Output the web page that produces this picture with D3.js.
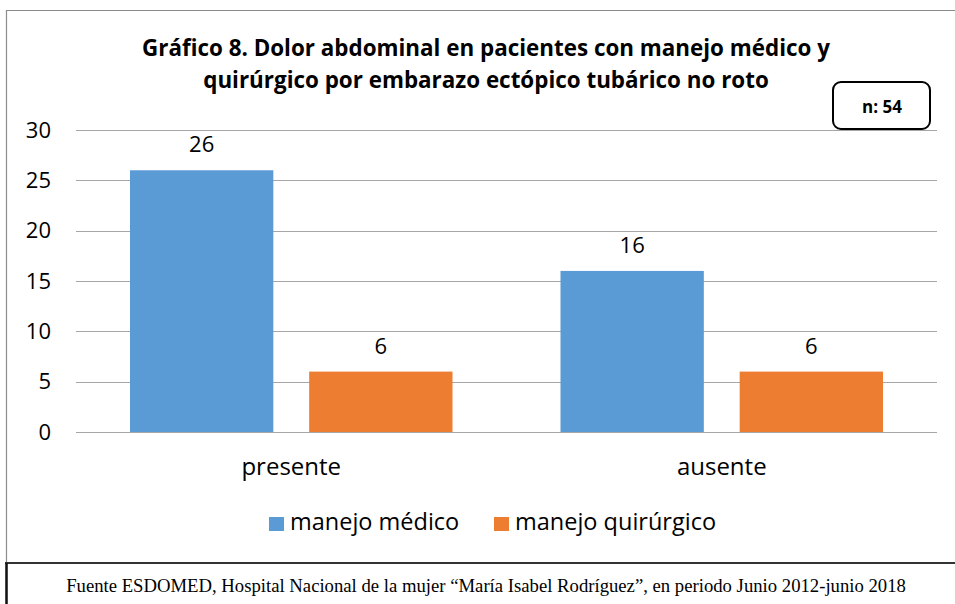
<!DOCTYPE html>
<html><head><meta charset="utf-8">
<script src="https://cdn.jsdelivr.net/npm/d3@7"></script>
<style>html,body{margin:0;padding:0;background:#fff;}svg{display:block;}</style>
</head><body>
<script>
const categories = ["presente", "ausente"];
const seriesNames = ["manejo médico", "manejo quirúrgico"];
const medico = [26, 16];
const quirurgico = [6, 6];
const yTicks = [0, 5, 10, 15, 20, 25, 30];
const colors = ["#5B9BD5", "#ED7D31"];
const titleLines = ["Gráfico 8. Dolor abdominal en pacientes con manejo médico y", "quirúrgico por embarazo ectópico tubárico no roto"];
const nLabel = "n: 54";
const footnote = "Fuente ESDOMED, Hospital Nacional de la mujer \u201cMaría Isabel Rodríguez\u201d, en periodo Junio 2012-junio 2018";

const W = 955, H = 604;
const svg = d3.select("body").append("svg").attr("width", W).attr("height", H);
const font = "'Open Sans', sans-serif";

// outer chart border
svg.append("path").attr("d", `M6.5,${H} V10.5 H${W}`).attr("fill","none").attr("stroke","#8c8c8c").attr("stroke-width",1.2);
// footnote box
svg.append("line").attr("x1",5).attr("x2",W).attr("y1",563).attr("y2",563).attr("stroke","#333").attr("stroke-width",2);
svg.append("line").attr("x1",6.5).attr("x2",6.5).attr("y1",563).attr("y2",H).attr("stroke","#111").attr("stroke-width",2.5);

// title
svg.append("text").attr("text-anchor","middle")
  .style("font-family", font).style("font-weight","bold").style("font-size","22.4px").attr("fill","#000")
  .selectAll("tspan").data(titleLines).join("tspan").attr("x",486).attr("y",(d,i)=>56+i*32).text(d=>d);

// n box
svg.append("rect").attr("x",833).attr("y",82).attr("width",97).attr("height",47).attr("rx",8)
  .attr("fill","#fff").attr("stroke","#000").attr("stroke-width",2);
svg.append("text").attr("x",882).attr("y",113).attr("text-anchor","middle")
  .style("font-family",font).style("font-weight","bold").style("font-size","17px").text(nLabel);

const x0 = d3.scaleBand().domain(categories).range([76, 937]).paddingInner(0).paddingOuter(0);
const x1 = d3.scaleBand().domain(seriesNames).range([54, x0.bandwidth()-54]).paddingInner(0.2).paddingOuter(0);
const y = d3.scaleLinear().domain([0, 30]).range([432, 130]);

// gridlines
svg.append("g").selectAll("line").data(yTicks).join("line")
  .attr("x1",76).attr("x2",937).attr("y1",d=>Math.round(y(d))+0.5).attr("y2",d=>Math.round(y(d))+0.5)
  .attr("stroke","#a6a6a6").attr("stroke-width",1.2);

// y axis labels
const yAxis = d3.axisLeft(y).tickValues(yTicks).tickSize(0).tickPadding(0);
const ga = svg.append("g").attr("transform","translate(51,0)").call(yAxis);
ga.select(".domain").remove();
ga.selectAll("text").style("font-family",font).style("font-size","22px").attr("fill","#000");

// bars
const data = categories.map((c,i)=>({cat:c, vals:[{s:seriesNames[0],v:medico[i]},{s:seriesNames[1],v:quirurgico[i]}]}));
const groups = svg.append("g").selectAll("g").data(data).join("g").attr("transform",d=>`translate(${x0(d.cat)},0)`);
groups.selectAll("rect").data(d=>d.vals).join("rect")
  .attr("x",d=>x1(d.s)).attr("width",x1.bandwidth())
  .attr("y",d=>y(d.v)).attr("height",d=>y(0)-y(d.v))
  .attr("fill",(d,i)=>colors[i]);
groups.selectAll("text").data(d=>d.vals).join("text")
  .attr("x",d=>x1(d.s)+x1.bandwidth()/2).attr("y",d=>y(d.v)-18)
  .attr("text-anchor","middle")
  .style("font-family",font).style("font-size","22px").text(d=>d.v);

// x axis labels
const xAxis = d3.axisBottom(x0).tickSize(0).tickPadding(0);
const gx = svg.append("g").attr("transform","translate(0,475)").call(xAxis);
gx.select(".domain").remove();
gx.selectAll("text").attr("dy","0").style("font-family",font).style("font-size","24px").attr("fill","#000");

// legend
const legX = [269, 494];
const leg = svg.append("g").selectAll("g").data(seriesNames).join("g").attr("transform",(d,i)=>`translate(${legX[i]},517)`);
leg.append("rect").attr("width",15).attr("height",14).attr("fill",(d,i)=>colors[i]);
leg.append("text").attr("x",21).attr("y",13)
  .style("font-family",font).style("font-size","23.5px").text(d=>d);

// footnote
svg.append("text").attr("x",486).attr("y",592).attr("text-anchor","middle")
  .style("font-family","'Liberation Serif', 'Times New Roman', serif").style("font-size","18.7px").text(footnote);
</script>
</body></html>
